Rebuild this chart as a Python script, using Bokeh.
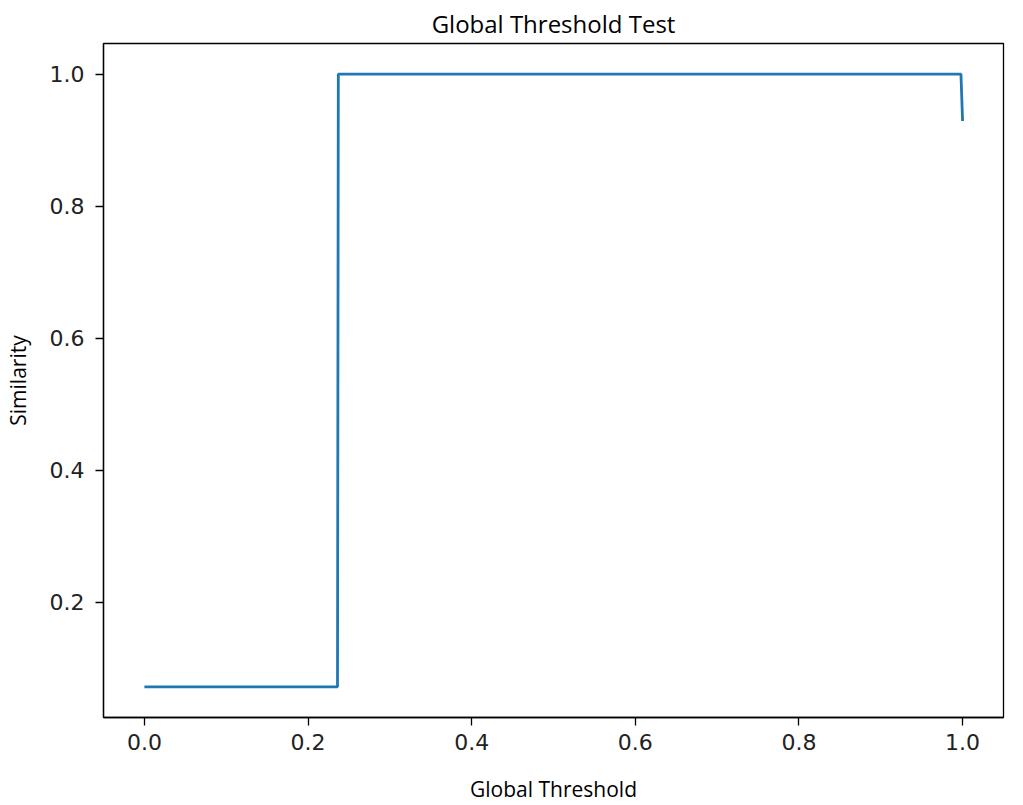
from bokeh.plotting import figure
from bokeh.models import Range1d, FixedTicker, NumeralTickFormatter
from bokeh.embed import file_html
from bokeh.resources import INLINE

# data
thresholds = [0.0, 0.236, 0.237, 0.998, 1.0]
similarity = [0.072, 0.072, 1.0, 1.0, 0.929]
x_ticks = [0.0, 0.2, 0.4, 0.6, 0.8, 1.0]
y_ticks = [0.2, 0.4, 0.6, 0.8, 1.0]

p = figure(width=1007, height=805, output_backend="svg", toolbar_location=None,
           x_range=Range1d(-0.05, 1.05), y_range=Range1d(0.0256, 1.0464),
           title="Global Threshold Test",
           min_border_left=94, min_border_right=4, min_border_top=35, min_border_bottom=74)

p.line(thresholds, similarity, line_color="#1f77b4", line_width=2.8)

p.title.align = "center"
p.title.text_font = "Open Sans"
p.title.text_font_size = "24px"
p.title.text_font_style = "normal"
p.title.text_color = "black"
p.title.standoff = 8

p.xgrid.visible = False
p.ygrid.visible = False
p.outline_line_color = "black"
p.outline_line_width = 1.3
p.background_fill_color = "white"
p.border_fill_color = "white"

for ax in (p.xaxis[0], p.yaxis[0]):
    ax.axis_line_color = "black"
    ax.axis_line_width = 1.3
    ax.major_tick_line_color = "black"
    ax.major_tick_line_width = 1.3
    ax.major_tick_out = 8
    ax.major_tick_in = 0
    ax.minor_tick_line_color = None
    ax.major_label_text_font = "DejaVu Sans"
    ax.major_label_text_font_size = "22px"
    ax.major_label_text_color = "#222222"
    ax.axis_label_text_font = "Open Sans"
    ax.axis_label_text_font_size = "21px"
    ax.axis_label_text_font_style = "normal"
    ax.axis_label_text_color = "black"
    ax.formatter = NumeralTickFormatter(format="0.0")

p.xaxis.ticker = FixedTicker(ticks=x_ticks)
p.yaxis.ticker = FixedTicker(ticks=y_ticks)
p.xaxis.axis_label = "Global Threshold"
p.yaxis.axis_label = "Similarity"
p.xaxis.major_label_standoff = 8
p.yaxis.major_label_standoff = 11
p.xaxis.axis_label_standoff = 22
p.yaxis.axis_label_standoff = 15

open("out.html", "w").write(file_html(p, INLINE))
